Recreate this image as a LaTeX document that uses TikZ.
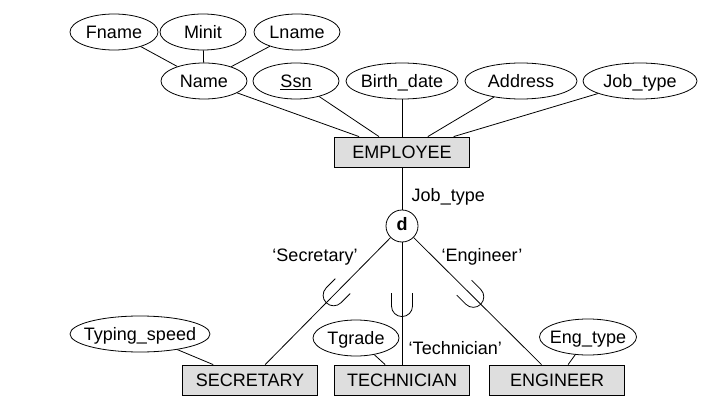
\documentclass[tikz,border=0pt]{standalone}
\usepackage{fontspec}
\setmainfont{Liberation Sans}
\usetikzlibrary{shapes.geometric}
\usetikzlibrary{calc}

\newcommand{\attxt}[1]{\makebox[0pt]{#1}}

\begin{document}
\begin{tikzpicture}[x=1pt,y=1pt,line width=0.8pt,
		font=\fontsize{18}{21}\selectfont,
		every node/.style={text height=12.9,text depth=0},
		attr/.style={draw,ellipse,inner sep=0pt,minimum height=36,minimum width=#1},
		attr/.default=86,
		entity/.style={draw,fill=black!13,inner sep=0pt,minimum width=135,minimum height=30},
		cup/.pic={\draw (-10.5,13) -- (-10.5,0) arc[start angle=180,end angle=360,radius=10.5] -- (10.5,13);}]
		\useasboundingbox (0,0) rectangle (708,-403);
		% attributes of EMPLOYEE
		\node[attr=88] (fname) at (114,-32) {\attxt{Fname}};
		\node[attr] (minit) at (203,-32) {\attxt{Minit}};
		\node[attr] (lname) at (297,-32) {\attxt{Lname}};
		\node[attr] (name) at (204,-81) {\attxt{Name}};
		\node[attr] (ssn) at (296,-81) {\attxt{\underline{Ssn}}};
		\node[attr=112] (bdate) at (402,-81) {\attxt{Birth\_date}};
		\node[attr=112] (addr) at (521,-81) {\attxt{Address}};
		\node[attr=114] (jtype) at (640,-81) {\attxt{Job\_type}};
		\node[entity] (emp) at (402,-152) {EMPLOYEE};
		\node[draw,circle,minimum size=32,inner sep=0pt,text height=9.5] (d) at (402,-226) {\textbf{d}};
		% subclasses
		\node[entity] (sec) at (250,-380) {SECRETARY};
		\node[entity] (tech) at (402,-380) {TECHNICIAN};
		\node[entity] (eng) at (557,-380) {ENGINEER};
		\node[attr=140] (tspeed) at (140,-334) {\attxt{Typing\_speed}};
		\node[attr] (tgrade) at (356,-338) {\attxt{Tgrade}};
		\node[attr=97] (etype) at (588,-337) {\attxt{Eng\_type}};
		\node[anchor=west] (jlbl) at (408,-195) {Job\_type};
		\node (slbl) at (315,-255) {‘Secretary’};
		\node (elbl) at (482,-255) {‘Engineer’};
		\node[anchor=west] (tlbl) at (405,-348) {‘Technician’};
		\draw (fname) -- (name);
		\draw (minit) -- (name);
		\draw (lname) -- (name);
		\foreach \a in {name,ssn,bdate,addr,jtype}
			\draw (\a) -- (emp);
		\draw (emp) -- (d);
		\draw (d) -- (sec);
		\draw (d) -- (tech);
		\draw (d) -- (eng);
		\draw (tspeed) -- (sec);
		\draw (tgrade) -- (tech);
		\draw (etype) -- (eng);
		\pic[rotate=-45] at ($(d)!0.45!(sec)$) {cup};
		\pic at ($(d)!0.52!(tech)$) {cup};
		\pic[rotate=45] at ($(d)!0.46!(eng)$) {cup};
\end{tikzpicture}
\end{document}
